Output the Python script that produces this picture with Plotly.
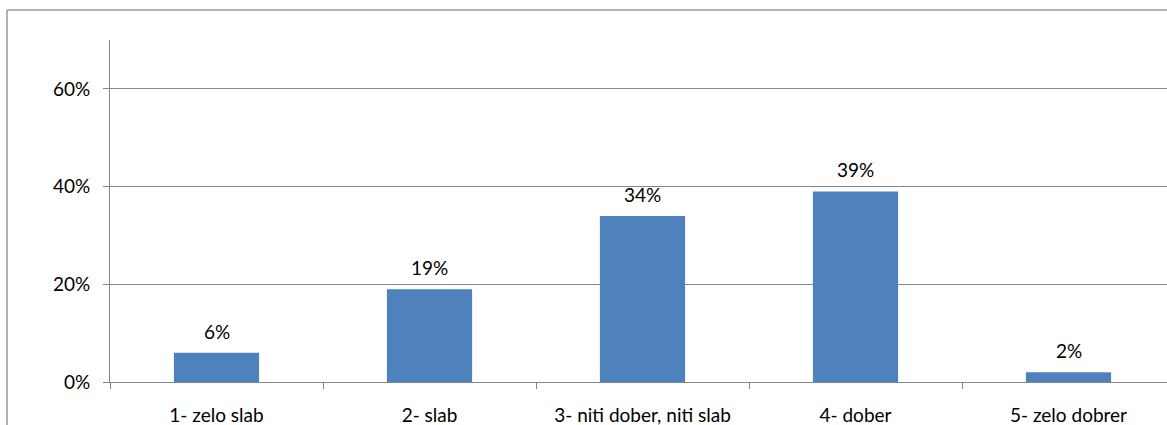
import plotly.graph_objects as go

categories = ["1- zelo slab", "2- slab", "3- niti dober, niti slab", "4- dober", "5- zelo dobrer"]
values = [0.06, 0.19, 0.34, 0.39, 0.02]
labels = ["6%", "19%", "34%", "39%", "2%"]
y_ticks = [0, 0.2, 0.4, 0.6]
y_tick_text = ["0%", "20%", "40%", "60%"]

W, H = 1167, 425
L, R, T, B = 110, 0, 40, 43
FONT = "Lato"
FS = 19

fig = go.Figure()
fig.add_trace(go.Bar(
    x=categories, y=values,
    marker=dict(color="#4F81BD", line=dict(width=0)),
    width=0.4,
))

annotations = [
    dict(x=c, y=v, text=t, xref="x", yref="y", showarrow=False,
         yanchor="bottom", yshift=8,
         font=dict(family=FONT, size=FS, color="#000000"))
    for c, v, t in zip(categories, values, labels)
]

pw = W - L - R
ph = H - T - B
bx = (7 - L) / pw
by = (H - B - 10) / ph

fig.update_layout(
    width=W, height=H,
    margin=dict(l=L, r=R, t=T, b=B, pad=0),
    paper_bgcolor="white", plot_bgcolor="white",
    showlegend=False,
    font=dict(family=FONT, size=FS, color="#000000"),
    annotations=annotations,
    xaxis=dict(
        type="category", range=[-0.5, -0.5 + pw / 213.0],
        tickson="boundaries", ticks="outside", ticklen=6, tickcolor="#868686",
        showline=True, linecolor="#868686", linewidth=1,
        showgrid=False, ticklabelstandoff=16,
        tickfont=dict(family=FONT, size=FS, color="#000000"),
    ),
    yaxis=dict(
        range=[0, 0.7], tickvals=y_ticks, ticktext=y_tick_text,
        ticks="outside", ticklen=6, tickcolor="#868686",
        showline=True, linecolor="#868686", linewidth=1,
        showgrid=True, gridcolor="#868686", gridwidth=1,
        zeroline=False, ticklabelstandoff=9,
        tickfont=dict(family=FONT, size=FS, color="#000000"),
    ),
    shapes=[
        dict(type="line", xref="paper", yref="paper", x0=bx, x1=1.1, y0=by, y1=by,
             line=dict(color="#9a9a9a", width=1.5)),
        dict(type="line", xref="paper", yref="paper", x0=bx, x1=bx, y0=by, y1=-0.3,
             line=dict(color="#9a9a9a", width=1.5)),
    ],
)

fig.write_html("out.html")
